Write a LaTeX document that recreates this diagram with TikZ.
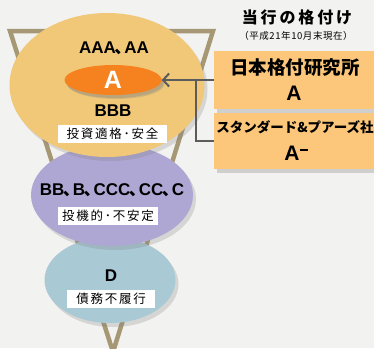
\documentclass[tikz,border=0pt]{standalone}
\usepackage{fontspec}
\setmainfont{Noto Sans CJK JP}
\newfontfamily\jp{Noto Sans CJK JP}
\newfontfamily\jpsp[LetterSpace=14]{Noto Sans CJK JP}
\newfontfamily\jptitle[LetterSpace=18]{Noto Sans CJK JP}
\newfontfamily\jpsub[LetterSpace=6]{Noto Sans CJK JP}
\newfontfamily\lat{Liberation Sans}
\newcommand\tcomma{\makebox[0.5em][l]{\jp\bfseries\kern-1.5pt 、}}
\usetikzlibrary{shapes.geometric,shadows,arrows.meta}
\definecolor{bgc}{HTML}{F2F2F0}
\definecolor{yel}{HTML}{F0C878}
\definecolor{org}{HTML}{F5821F}
\definecolor{pur}{HTML}{AEA7D3}
\definecolor{blu}{HTML}{A9C9D5}
\definecolor{boxc}{HTML}{FCC77A}
\definecolor{tri}{HTML}{A69874}
\definecolor{con}{HTML}{5C5C5C}
\tikzset{
  ell/.style={ellipse, inner sep=0pt, drop shadow={opacity=0.25, shadow xshift=3pt, shadow yshift=-4pt}},
  lbl/.style={font=\lat\bfseries\fontsize{17}{19}\selectfont, text=black, inner sep=0pt},
  tag/.style={fill=white, inner sep=0pt, minimum height=18pt, font=\jpsp\fontsize{12.5}{14}\selectfont, text=black},
  rbox/.style={fill=boxc, inner sep=0pt, minimum width=161pt, drop shadow={opacity=0.3, shadow xshift=3pt, shadow yshift=-4pt}, align=center},
  conn/.style={draw=con, line width=2pt},
}
\begin{document}
\begin{tikzpicture}[x=1pt,y=-1pt]
\useasboundingbox (0,0) rectangle (374,348);
\fill[bgc] (0,0) rectangle (374,348);
% funnel
\draw[tri, line width=4.5pt, line join=miter] (10,31) -- (213,31) -- (113,352) -- cycle;
% ellipses
\node[ell, fill=blu, minimum width=131pt, minimum height=86pt] (dell) at (110,280) {};
\node[ell, fill=pur, minimum width=162pt, minimum height=102pt] (pell) at (112,195) {};
\node[ell, fill=yel, minimum width=195pt, minimum height=144pt] (yell) at (107,85) {};
\node[ell, fill=org, minimum width=97pt, minimum height=30pt, drop shadow={opacity=0.3, shadow xshift=2pt, shadow yshift=-3pt}] (aell) at (113,80) {};
% texts
\node[lbl] (taaa) at (114,48) {AAA\tcomma AA};
\node[lbl, text=white, font=\lat\bfseries\fontsize{25}{27}\selectfont] (ta) at (aell) {A};
\node[lbl] (tbbb) at (113,111) {BBB};
\node[tag, minimum width=109pt] (tag1) at (112.5,134) {投資適格･安全};
\node[lbl] (tbb) at (112,190) {BB\tcomma B\tcomma CCC\tcomma CC\tcomma C};
\node[tag, minimum width=100pt] (tag2) at (108,216) {投機的･不安定};
\node[lbl] (td) at (111,276) {D};
\node[tag, minimum width=88pt] (tag3) at (111,299) {債務不履行};
% right side
\node[font=\jptitle\bfseries\fontsize{16}{18}\selectfont, inner sep=0pt] (title) at (297,17) {当行の格付け};
\node[font=\jpsub\fontsize{9.5}{10}\selectfont, inner sep=0pt] (sub) at (296,36) {（平成21年10月末現在）};
\node[rbox, minimum height=58pt] (box1) at (294.5,80) {};
\node[font=\jp\bfseries\fontsize{18.5}{20}\selectfont, inner sep=0pt] (t1) at (295,68) {日本格付研究所};
\node[lbl, font=\lat\bfseries\fontsize{21}{22}\selectfont] (r1) at (294,93) {A};
\node[rbox, minimum height=56pt] (box2) at (294.5,141) {};
\node[font=\jp\bfseries\fontsize{13.5}{15}\selectfont, inner sep=0pt] (t2) at (295,127) {スタンダード\&プアーズ社};
\node[lbl, font=\lat\bfseries\fontsize{21}{22}\selectfont] (r2) at (296,153) {A\raisebox{9pt}{\rule{8pt}{1.8pt}}};
% connectors
\coordinate (j) at (196,80);
\draw[conn, -{Straight Barb[length=6pt,width=13pt,line width=2pt]}] (box1.west) -- (aell.east);
\draw[conn] (box2.west) -| (j);
\end{tikzpicture}
\end{document}
